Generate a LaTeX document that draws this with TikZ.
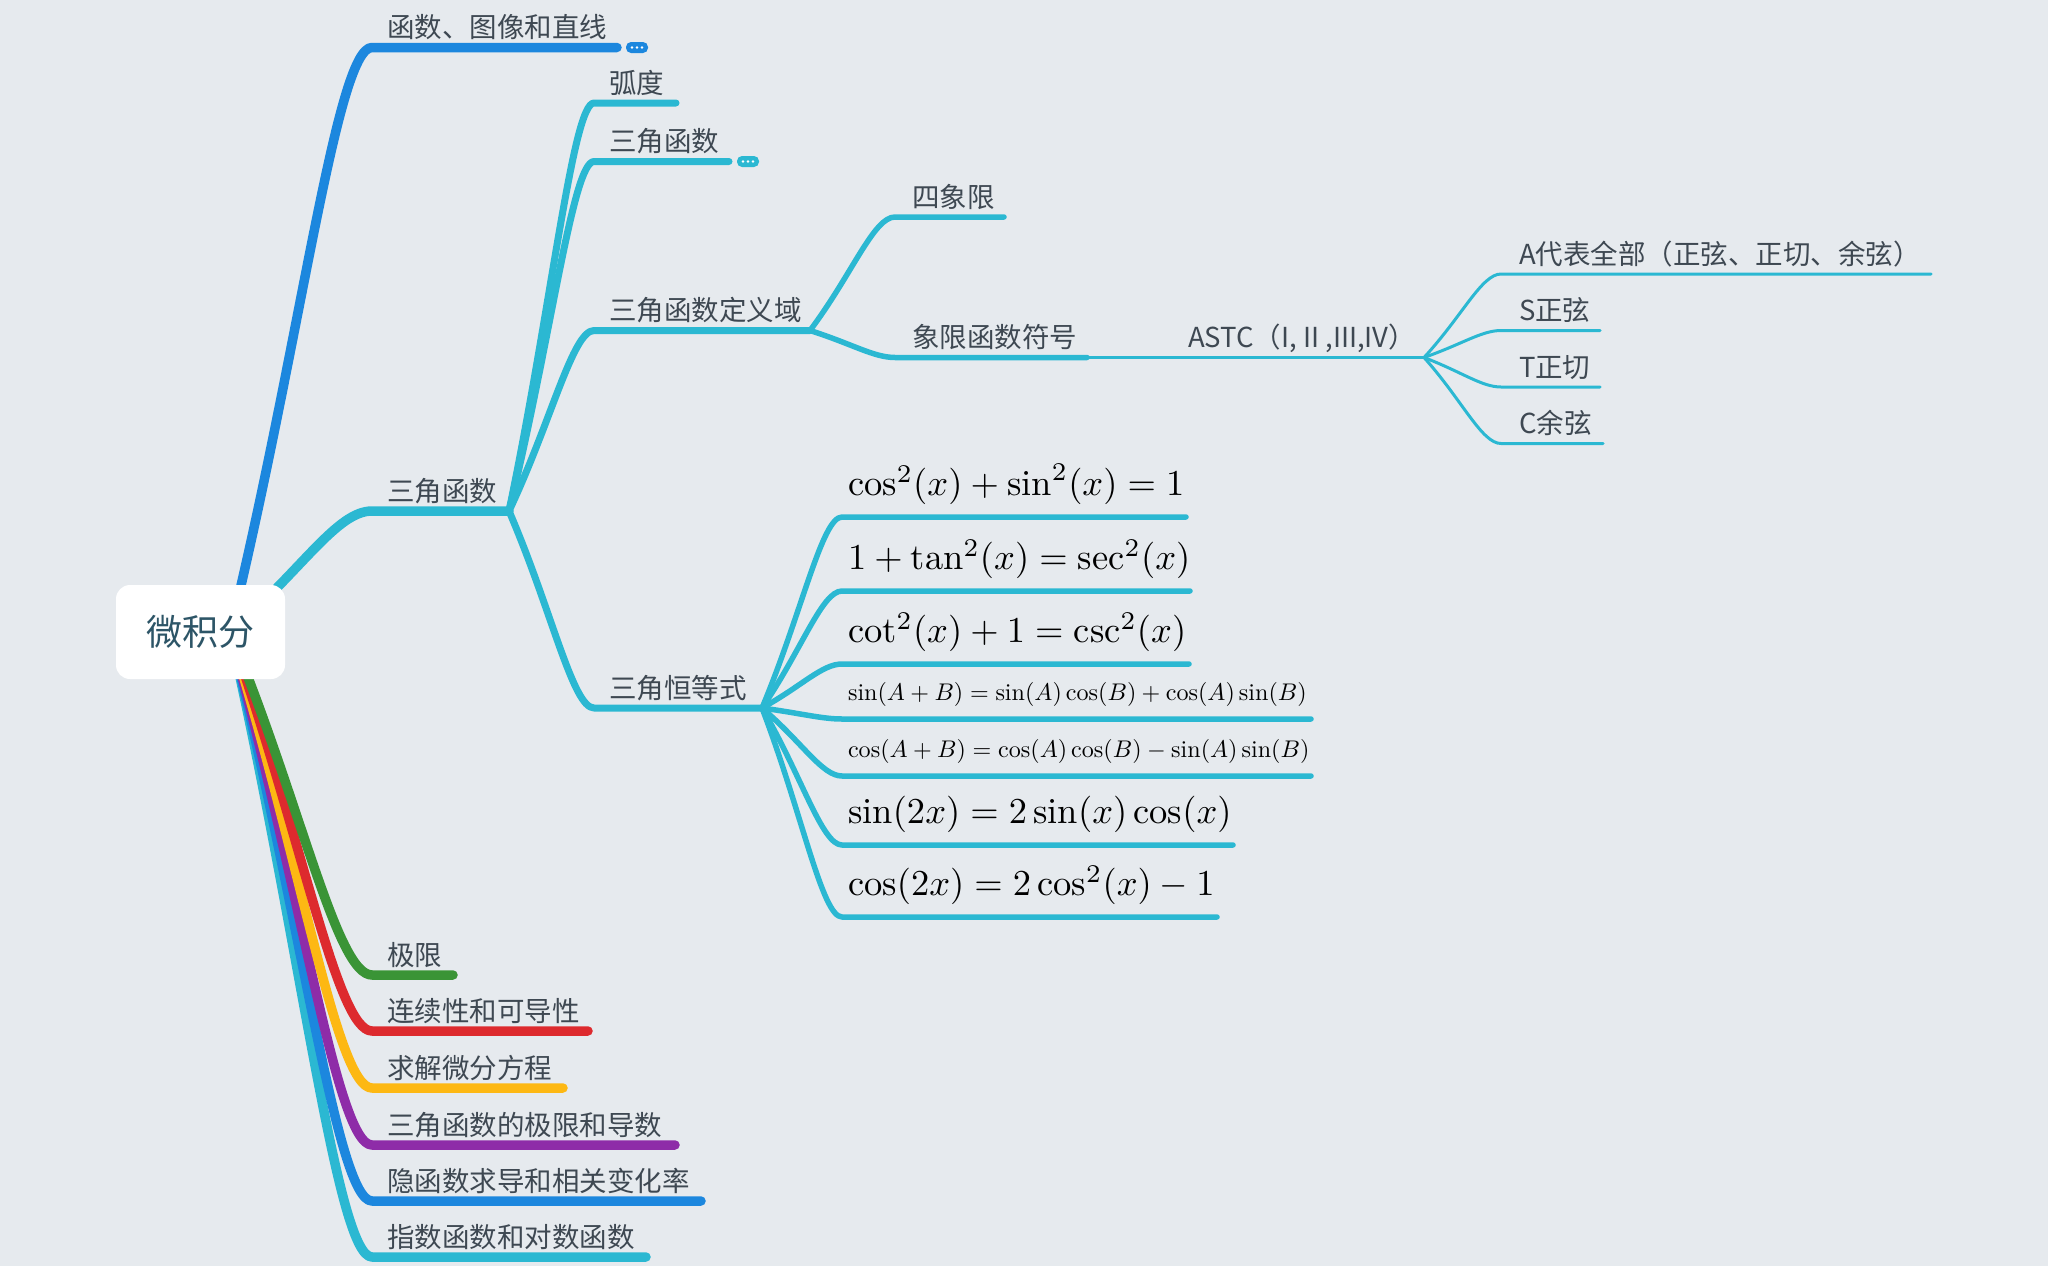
\documentclass[tikz,border=0pt]{standalone}
\usepackage{fontspec}
\newfontfamily\cjk{Noto Sans CJK SC}
\usetikzlibrary{calc}
\definecolor{bgc}{HTML}{E6EAEE}
\definecolor{mmblue}{HTML}{1C87DE}
\definecolor{mmteal}{HTML}{2BB8D2}
\definecolor{mmgreen}{HTML}{3A9436}
\definecolor{mmred}{HTML}{DD2A2E}
\definecolor{mmyellow}{HTML}{FDB813}
\definecolor{mmpurple}{HTML}{8E2CA8}
\definecolor{txt}{HTML}{3E4852}
\definecolor{roottxt}{HTML}{2D5567}
\newcommand\mmbranch[4]{\draw[#1] let \p1=(#2), \p2=(#3) in (\p1) .. controls ({0.5*\x1+0.5*\x2},{0.5*\y1+0.5*\y2}) and ({0.75*\x2+0.25*\x1},{\y2}) .. (\p2) -- (#4);}
\tikzset{
 topic/.style={anchor=base west, inner sep=0pt, outer sep=0pt, text=txt, font=\cjk\fontsize{27.5}{33}\selectfont},
 bigf/.style={anchor=base west, inner sep=0pt, outer sep=0pt, text=black, font=\fontsize{10}{12}\selectfont, scale=3.65},
 smallf/.style={anchor=base west, inner sep=0pt, outer sep=0pt, text=black, font=\fontsize{10}{12}\selectfont, scale=2.41},
 lv1/.style={line width=9.5pt, line cap=round, line join=round},
 lv2/.style={line width=7pt, line cap=round, line join=round, mmteal},
 lv3/.style={line width=5.5pt, line cap=round, line join=round, mmteal},
 lv4/.style={line width=3.3pt, line cap=round, mmteal},
 lv5/.style={line width=3pt, line cap=round, line join=round, mmteal},
 badge/.style={fill=#1, rounded corners=5pt, minimum width=22pt, minimum height=11pt, inner sep=0pt},
 rootbox/.style={fill=white, rounded corners=14pt, minimum width=169pt, minimum height=94pt, inner sep=0pt, text=roottxt, font=\cjk\fontsize{36}{40}\selectfont}
}
\begin{document}
\begin{tikzpicture}[x=1pt,y=-1pt]
\fill[bgc] (0,0) rectangle (2048,1266);
\useasboundingbox (0,0) rectangle (2048,1266);

\coordinate (rc) at (230,632);

% level 1 coordinates
\coordinate (fx-a) at (372,47.5); \coordinate (fx-b) at (617,47.5);
\coordinate (sj-a) at (372,511); \coordinate (sj-b) at (509,511);
\coordinate (jx-a) at (372,975); \coordinate (jx-b) at (453,975);
\coordinate (lx-a) at (372,1031); \coordinate (lx-b) at (588,1031);
\coordinate (qj-a) at (372,1088); \coordinate (qj-b) at (563,1088);
\coordinate (sd-a) at (372,1145); \coordinate (sd-b) at (675,1145);
\coordinate (yh-a) at (372,1201); \coordinate (yh-b) at (701,1201);
\coordinate (zs-a) at (372,1257); \coordinate (zs-b) at (646,1257);

% level 2 coordinates
\coordinate (hd-a) at (594,103); \coordinate (hd-b) at (676,103);
\coordinate (sh-a) at (594,161.5); \coordinate (sh-b) at (729,161.5);
\coordinate (dy-a) at (594,330.5); \coordinate (dy-b) at (810,330.5);
\coordinate (hh-a) at (594,708); \coordinate (hh-b) at (762,708);

% level 3 coordinates
\coordinate (sx-a) at (895,217); \coordinate (sx-b) at (1004,217);
\coordinate (xf-a) at (895,357.5); \coordinate (xf-b) at (1087,357.5);
\coordinate (as-b) at (1424,357.5);

% level 4 coordinates
\coordinate (aa-a) at (1501,274); \coordinate (aa-b) at (1931,274);
\coordinate (ss-a) at (1501,330.5); \coordinate (ss-b) at (1600,330.5);
\coordinate (tt-a) at (1501,387); \coordinate (tt-b) at (1600,387);
\coordinate (cc-a) at (1501,443.5); \coordinate (cc-b) at (1603,443.5);

% formulas
\coordinate (f1-a) at (842,517); \coordinate (f1-b) at (1186,517);
\coordinate (f2-a) at (842,591); \coordinate (f2-b) at (1190,591);
\coordinate (f3-a) at (842,664); \coordinate (f3-b) at (1189,664);
\coordinate (f4-a) at (842,719); \coordinate (f4-b) at (1311,719);
\coordinate (f5-a) at (842,776); \coordinate (f5-b) at (1311,776);
\coordinate (f6-a) at (842,845); \coordinate (f6-b) at (1233,845);
\coordinate (f7-a) at (842,917); \coordinate (f7-b) at (1217,917);

% level 1 connectors
\mmbranch{lv1,mmteal}{rc}{zs-a}{zs-b}
\mmbranch{lv1,mmblue}{rc}{yh-a}{yh-b}
\mmbranch{lv1,mmpurple}{rc}{sd-a}{sd-b}
\mmbranch{lv1,mmyellow}{rc}{qj-a}{qj-b}
\mmbranch{lv1,mmred}{rc}{lx-a}{lx-b}
\mmbranch{lv1,mmgreen}{rc}{jx-a}{jx-b}
\mmbranch{lv1,mmblue}{rc}{fx-a}{fx-b}
\mmbranch{lv1,mmteal}{rc}{sj-a}{sj-b}

% level 2 connectors
\mmbranch{lv2}{sj-b}{hd-a}{hd-b}
\mmbranch{lv2}{sj-b}{sh-a}{sh-b}
\mmbranch{lv2}{sj-b}{dy-a}{dy-b}
\mmbranch{lv2}{sj-b}{hh-a}{hh-b}

% level 3 connectors
\mmbranch{lv3}{dy-b}{sx-a}{sx-b}
\mmbranch{lv3}{dy-b}{xf-a}{xf-b}
\draw[lv4] (xf-b) -- (as-b);

% level 4 connectors
\mmbranch{lv5}{as-b}{aa-a}{aa-b}
\mmbranch{lv5}{as-b}{ss-a}{ss-b}
\mmbranch{lv5}{as-b}{tt-a}{tt-b}
\mmbranch{lv5}{as-b}{cc-a}{cc-b}

% formula connectors
\mmbranch{lv3}{hh-b}{f1-a}{f1-b}
\mmbranch{lv3}{hh-b}{f2-a}{f2-b}
\mmbranch{lv3}{hh-b}{f3-a}{f3-b}
\mmbranch{lv3}{hh-b}{f4-a}{f4-b}
\mmbranch{lv3}{hh-b}{f5-a}{f5-b}
\mmbranch{lv3}{hh-b}{f6-a}{f6-b}
\mmbranch{lv3}{hh-b}{f7-a}{f7-b}

% root
\node[rootbox] (root) at (200.5,632) {微积分};

% level 1 labels
\node[topic] (fx) at (387,37.5) {函数、图像和直线};
\node[topic] (sj) at (387,501) {三角函数};
\node[topic] (jx) at (387,965) {极限};
\node[topic] (lx) at (387,1021) {连续性和可导性};
\node[topic] (qj) at (387,1078) {求解微分方程};
\node[topic] (sd) at (387,1135) {三角函数的极限和导数};
\node[topic] (yh) at (387,1191) {隐函数求导和相关变化率};
\node[topic] (zs) at (387,1247) {指数函数和对数函数};

% collapse badges
\node[badge=mmblue] (fxm) at (637,47.5) {};
\foreach \dx in {-5,0,5} \fill[white] ($(fxm.center)+(\dx,0)$) circle (1.4pt);
\node[badge=mmteal] (shm) at (748,161.5) {};
\foreach \dx in {-5,0,5} \fill[white] ($(shm.center)+(\dx,0)$) circle (1.4pt);

% level 2 labels
\node[topic] (hd) at (609,93) {弧度};
\node[topic] (sh) at (609,151.5) {三角函数};
\node[topic] (dy) at (609,320.5) {三角函数定义域};
\node[topic] (hh) at (609,698) {三角恒等式};

% level 3 labels
\node[topic] (sx) at (912,207) {四象限};
\node[topic] (xf) at (912,347.5) {象限函数符号};
\node[topic] (as) at (1188,347.5) {ASTC（I, II ,III,IV）};

% level 4 labels
\node[topic] (aa) at (1519,264) {A代表全部（正弦、正切、余弦）};
\node[topic] (ss) at (1519,320.5) {S正弦};
\node[topic] (tt) at (1519,377) {T正切};
\node[topic] (cc) at (1519,433.5) {C余弦};

% formulas
\node[bigf] (f1) at (848,495.5) {$\cos^2(x)+\sin^2(x)=1$};
\node[bigf] (f2) at (848,569.5) {$1+\tan^2(x)=\sec^2(x)$};
\node[bigf] (f3) at (848,642.5) {$\cot^2(x)+1=\csc^2(x)$};
\node[smallf] (f4) at (848,700) {$\sin(A+B)=\sin(A)\cos(B)+\cos(A)\sin(B)$};
\node[smallf] (f5) at (848,757) {$\cos(A+B)=\cos(A)\cos(B)-\sin(A)\sin(B)$};
\node[bigf] (f6) at (848,823.5) {$\sin(2x)=2\sin(x)\cos(x)$};
\node[bigf] (f7) at (848,895.5) {$\cos(2x)=2\cos^2(x)-1$};
\end{tikzpicture}
\end{document}
